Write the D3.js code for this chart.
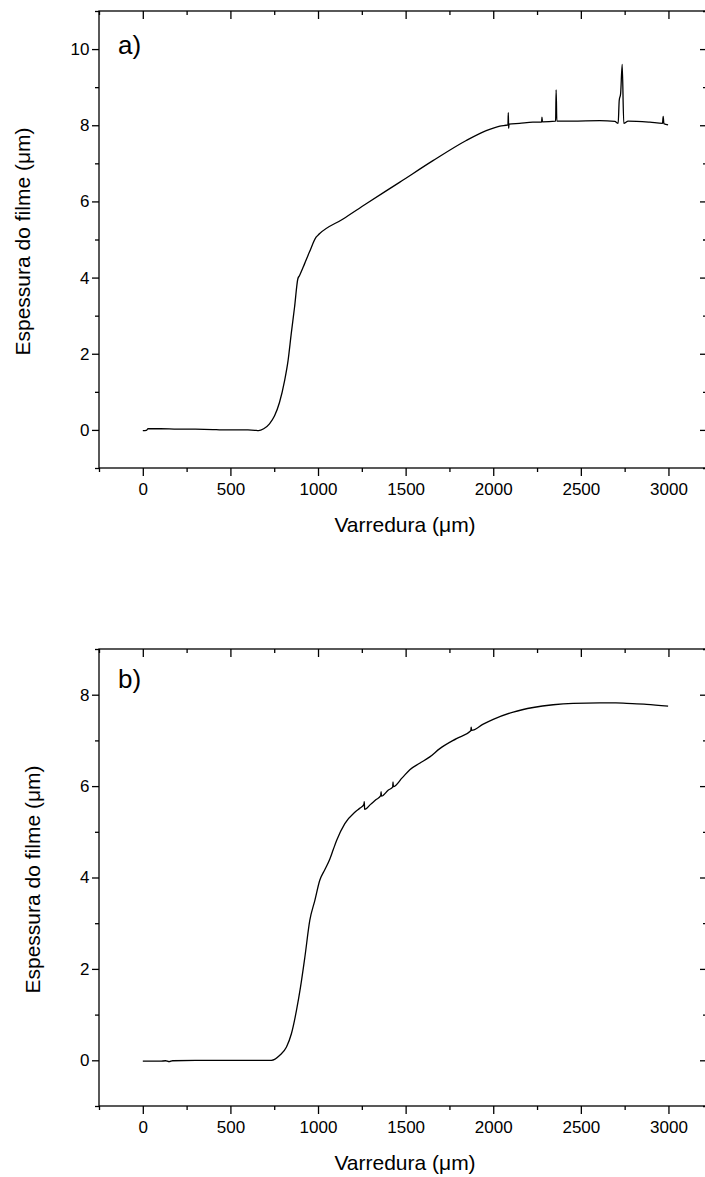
<!DOCTYPE html>
<html>
<head>
<meta charset="utf-8">
<script src="https://cdn.jsdelivr.net/npm/d3@7"></script>
<style>
  body { margin: 0; background: #fff; }
  svg { display: block; font-family: "Liberation Sans", Arial, sans-serif; }
</style>
</head>
<body>
<div id="chart"></div>
<script>
// scan positions (um) and film thickness (um)
const scanA = [0, 20, 30, 100, 200, 300, 400, 450, 500, 600, 640, 660, 690, 723, 752, 780, 809, 829, 847, 866, 885, 894, 923, 951, 989, 1008, 1143, 1275, 1465, 1656, 1846, 1960, 2038, 2084, 2086, 2088, 2090, 2150, 2226, 2276, 2278, 2281, 2356, 2359, 2363, 2450, 2608, 2694, 2713, 2719, 2727, 2736, 2745, 2770, 2894, 2966, 2970, 2974, 2998];
const thickA = [-0.02, -0.01, 0.03, 0.03, 0.02, 0.02, 0.01, 0.0, 0.0, 0.0, -0.01, -0.02, 0.03, 0.16, 0.37, 0.72, 1.29, 1.82, 2.52, 3.22, 3.97, 4.05, 4.36, 4.67, 5.06, 5.15, 5.54, 5.94, 6.50, 7.07, 7.60, 7.86, 7.98, 8.01, 8.33, 7.92, 8.03, 8.05, 8.08, 8.08, 8.21, 8.09, 8.11, 8.93, 8.11, 8.11, 8.12, 8.10, 8.05, 8.65, 8.83, 9.60, 8.05, 8.11, 8.08, 8.05, 8.23, 8.04, 8.01];

const scanB = [0, 100, 130, 150, 170, 300, 500, 700, 734, 782, 820, 848, 877, 900, 925, 953, 982, 1010, 1040, 1067, 1086, 1106, 1153, 1210, 1240, 1262, 1264, 1266, 1300, 1330, 1358, 1360, 1362, 1400, 1426, 1428, 1430, 1480, 1524, 1580, 1638, 1695, 1790, 1872, 1874, 1877, 1940, 2000, 2114, 2228, 2342, 2456, 2608, 2700, 2761, 2875, 2998];
const thickB = [-0.02, -0.02, -0.01, -0.03, -0.01, 0.0, 0.0, 0.0, 0.0, 0.11, 0.29, 0.58, 1.09, 1.60, 2.26, 3.06, 3.50, 3.94, 4.18, 4.40, 4.60, 4.81, 5.18, 5.43, 5.52, 5.60, 5.66, 5.49, 5.60, 5.70, 5.79, 5.88, 5.78, 5.91, 5.98, 6.09, 5.99, 6.18, 6.36, 6.50, 6.64, 6.82, 7.04, 7.21, 7.29, 7.22, 7.35, 7.46, 7.62, 7.72, 7.78, 7.81, 7.82, 7.82, 7.81, 7.79, 7.75];

const xMajor = [0, 500, 1000, 1500, 2000, 2500, 3000];
const xMinor = [-250, 250, 750, 1250, 1750, 2250, 2750];
const yMajorA = [0, 2, 4, 6, 8, 10];
const yMinorA = [-1, 1, 3, 5, 7, 9, 11];
const yMajorB = [0, 2, 4, 6, 8];
const yMinorB = [-1, 1, 3, 5, 7, 9];

const xTitle = "Varredura (\u03bcm)";
const yTitle = "Espessura do filme (\u03bcm)";

const W = 705, H = 1177;

let svg = d3.select("#chart")
    .append("svg")
    .attr("width", W)
    .attr("height", H);

svg.append("rect").attr("width", W).attr("height", H).attr("fill", "#fff");

function panel(opts){
    const left = 99, right = 707;
    const top = opts.top, bottom = opts.top + 457;

    let xScale = d3.scaleLinear().domain([-250, 3220]).range([left, right]);
    let yScale = d3.scaleLinear().domain(opts.yDomain).range([bottom, top]);

    let g = svg.append("g");

    //=== axes ===
    function axis(gen, tr){
        let a = g.append("g").attr("transform", tr).call(gen);
        a.select(".domain").remove();
        a.selectAll("line").attr("stroke", "#000").attr("stroke-width", 1.3);
        a.selectAll("text").attr("fill", "#000").style("font-size", "17px");
        return a;
    }

    axis(d3.axisBottom(xScale).tickValues(xMajor).tickSize(8).tickPadding(7).tickFormat(d3.format("d")), `translate(0,${bottom})`);
    axis(d3.axisBottom(xScale).tickValues(xMinor).tickSize(4).tickFormat(""), `translate(0,${bottom})`);
    axis(d3.axisTop(xScale).tickValues(xMajor).tickSize(-8).tickFormat(""), `translate(0,${top})`);
    axis(d3.axisTop(xScale).tickValues(xMinor).tickSize(-4).tickFormat(""), `translate(0,${top})`);

    axis(d3.axisLeft(yScale).tickValues(opts.yMajor).tickSize(7).tickPadding(2.5).tickFormat(d3.format("d")), `translate(${left},0)`);
    axis(d3.axisLeft(yScale).tickValues(opts.yMinor).tickSize(4).tickFormat(""), `translate(${left},0)`);
    axis(d3.axisRight(yScale).tickValues(opts.yMajor).tickSize(-7).tickFormat(""), `translate(${right},0)`);
    axis(d3.axisRight(yScale).tickValues(opts.yMinor).tickSize(-4).tickFormat(""), `translate(${right},0)`);

    g.append("rect")
        .attr("x", left).attr("y", top)
        .attr("width", right - left).attr("height", bottom - top)
        .attr("fill", "none").attr("stroke", "#000").attr("stroke-width", 1.3);

    //=== profile line ===
    let pts = opts.xs.map((x, i) => [x, opts.ys[i]]);
    let line = d3.line()
        .curve(d3.curveMonotoneX)
        .x(d => xScale(d[0]))
        .y(d => yScale(d[1]));

    g.append("path")
        .datum(pts)
        .attr("d", line)
        .attr("fill", "none")
        .attr("stroke", "#000")
        .attr("stroke-width", 1.3)
        .attr("stroke-linejoin", "round");

    //=== labels ===
    g.append("text")
        .attr("x", 118).attr("y", top + opts.tagDy)
        .style("font-size", "26px")
        .text(opts.tag);

    g.append("text")
        .attr("x", (left + right) / 2 + 2).attr("y", bottom + 64)
        .attr("text-anchor", "middle")
        .style("font-size", "21px")
        .text(xTitle);

    g.append("text")
        .attr("transform", `translate(${opts.yTitleX},${(top + bottom) / 2 + 2}) rotate(-90)`)
        .attr("text-anchor", "middle")
        .style("font-size", "21px")
        .text(yTitle);
}

panel({ top: 11, yDomain: [-1, 11], yMajor: yMajorA, yMinor: yMinorA, xs: scanA, ys: thickA, tag: "a)", tagDy: 43, yTitleX: 30 });
panel({ top: 649, yDomain: [-1, 9], yMajor: yMajorB, yMinor: yMinorB, xs: scanB, ys: thickB, tag: "b)", tagDy: 39, yTitleX: 40 });
</script>
</body>
</html>
